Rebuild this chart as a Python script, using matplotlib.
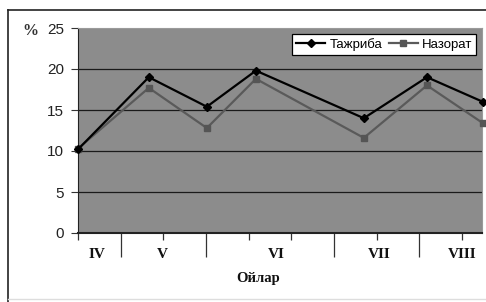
import numpy as np
import matplotlib.pyplot as plt
from matplotlib.lines import Line2D

# sample positions along the season (weekly tick units) and values, %
sample_pos = [0, 1.66, 3.02, 4.17, 6.70, 8.18, 9.49]
tajriba = [10.2, 19.0, 15.4, 19.8, 14.0, 19.0, 16.0]
nazorat = [10.3, 17.7, 12.8, 18.8, 11.6, 18.0, 13.4]

week_ticks = list(range(10))
month_bounds = [1, 3, 6, 8]
month_centers = [0.45, 1.97, 4.65, 7.05, 9.0]
month_labels = ['IV', 'V', 'VI', 'VII', 'VIII']
y_ticks = [0, 5, 10, 15, 20, 25]

fig = plt.figure(figsize=(4.86, 3.02), dpi=100)
ax = fig.add_axes([78 / 486, 1 - 233 / 302, 404 / 486, 205 / 302])
ax.set_facecolor('#8c8c8c')

# outer chart frame
fig.add_artist(Line2D([8 / 486, 486 / 486], [1 - 10 / 302] * 2, color='#222222', lw=1.2, transform=fig.transFigure))
fig.add_artist(Line2D([8 / 486] * 2, [1 - 10 / 302, 0], color='#222222', lw=1.2, transform=fig.transFigure))
fig.add_artist(Line2D([8 / 486, 1], [3 / 302] * 2, color='#dddddd', lw=1, transform=fig.transFigure))

for y in y_ticks[1:-1]:
    ax.axhline(y, color='#1a1a1a', lw=0.9, zorder=1)

ax.plot(sample_pos, nazorat, color='#5a5a5a', lw=1.6, marker='s', markersize=5,
        markerfacecolor='#555555', markeredgecolor='#555555', label='Назорат', zorder=3, clip_on=False)
ax.plot(sample_pos, tajriba, color='black', lw=1.6, marker='D', markersize=4,
        label='Тажриба', zorder=4, clip_on=False)

ax.set_xlim(0, 9.47)
ax.set_ylim(0, 25)

ax.set_yticks(y_ticks)
ax.tick_params(axis='y', length=5, width=0.8, color='#333333', labelsize=11, pad=5,
               labelcolor='#222222')
for lab in ax.get_yticklabels():
    lab.set_fontfamily('Liberation Sans')

ax.set_xticks(month_bounds)
ax.set_xticklabels([])
ax.set_xticks(week_ticks, minor=True)
ax.tick_params(axis='x', which='major', length=17, width=0.9, color='#333333')
ax.tick_params(axis='x', which='minor', length=5, width=0.9, color='#333333')

for c, lab in zip(month_centers, month_labels):
    ax.text(c, -0.075, lab, transform=ax.get_xaxis_transform(), ha='center', va='top',
            fontsize=11, fontweight='bold', fontfamily='Liberation Serif', color='#111111')
ax.text(0.445, -0.19, 'Ойлар', transform=ax.transAxes, ha='center', va='top',
        fontsize=10.5, fontweight='bold', fontfamily='Liberation Serif', color='#111111')
fig.text(22 / 486, 1 - 31 / 302, '%', ha='left', va='center', fontsize=11.5,
         fontfamily='Liberation Serif', fontweight='bold', color='#333333')

for side in ['top', 'right']:
    ax.spines[side].set_color('#9a9a9a')
ax.spines['left'].set_color('#222222')
ax.spines['bottom'].set_color('#222222')
ax.spines['bottom'].set_linewidth(1.5)

handles, labels = ax.get_legend_handles_labels()
leg = ax.legend(handles[::-1], labels[::-1], loc='upper right', ncol=2, frameon=True,
                fancybox=False, edgecolor='black', framealpha=1,
                prop={'family': 'Liberation Sans', 'size': 9.5},
                handlelength=2.2, handletextpad=0.3, columnspacing=0.5,
                borderpad=0.3, borderaxespad=0.45)
leg.get_frame().set_linewidth(0.9)

fig.savefig('out.png', dpi=100)
